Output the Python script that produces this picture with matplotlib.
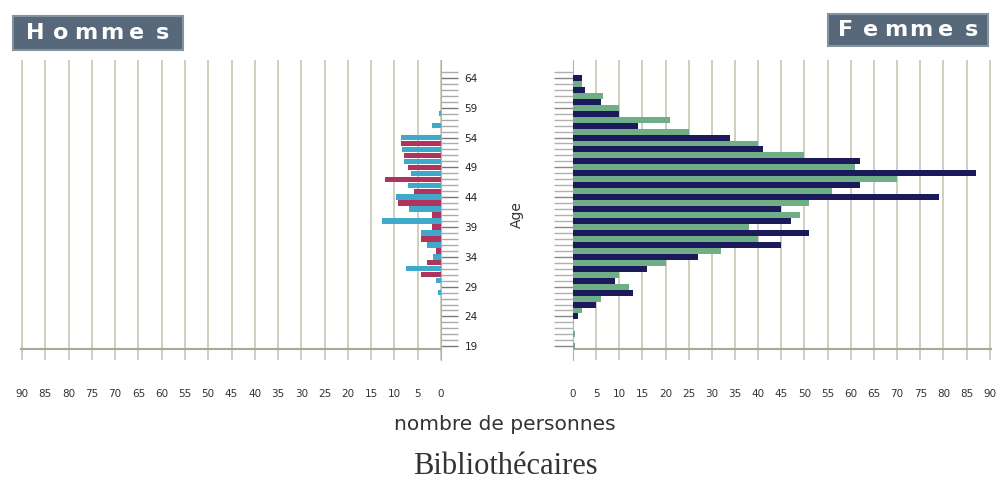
import matplotlib.pyplot as plt
from matplotlib.patches import Rectangle
import numpy as np

# Tranches d'age (2 ans) : serie "a" sur l'age pair, serie "b" sur l'age impair juste dessous
tranches = list(range(64, 18, -2))

femmes_a = [2, 2.5, 6, 10, 14, 34, 41, 62, 87, 62, 79, 45, 47, 51, 45, 27, 16, 9, 13, 5, 1, 0, 0]
femmes_b = [2, 6.5, 10, 21, 25, 40, 50, 61, 70, 56, 51, 49, 38, 40, 32, 20, 10, 12, 6, 2, 0, 0.5, 0.5]

hommes_a = [0, 0, 0, 0.5, 2, 8.6, 8.3, 8, 6.5, 7, 9.7, 6.8, 12.6, 4.3, 3, 1.8, 7.5, 1, 0.7, 0, 0, 0, 0]
hommes_b = [0, 0, 0, 0, 0, 8.6, 8, 7, 12, 5.8, 9.3, 2, 2, 4.3, 1, 3, 4.3, 0, 0, 0, 0, 0, 0]

x_ticks = list(range(0, 95, 5))
age_labels = list(range(19, 65, 5))

W, H = 1001, 482


def px_box(x0, y0, x1, y1):
    # pixel box -> figure fraction [left, bottom, width, height]
    return [x0 / W, 1 - y1 / H, (x1 - x0) / W, (y1 - y0) / H]


fig = plt.figure(figsize=(W / 100, H / 100), dpi=100)
fig.patch.set_facecolor('white')

ax_h = fig.add_axes(px_box(19.7, 60, 441, 360))
ax_f = fig.add_axes(px_box(573, 60, 992, 360))

y_a = np.array(tranches, dtype=float)
y_b = y_a - 1

ax_h.barh(y_a, hommes_a, height=0.9, color='#3fa9cb', zorder=3)
ax_h.barh(y_b, hommes_b, height=0.9, color='#b0335e', zorder=3)
ax_f.barh(y_a, femmes_a, height=1.0, color='#1b1b5c', zorder=3)
ax_f.barh(y_b, femmes_b, height=1.0, color='#6fae86', zorder=3)

ax_h.set_xlim(90.5, 0)
ax_f.set_xlim(0, 90.5)

for ax in (ax_h, ax_f):
    ax.set_ylim(16.7, 67)
    ax.set_xticks(x_ticks)
    ax.set_xticklabels([str(v) for v in x_ticks])
    ax.grid(axis='x', color='#d0cebf', linewidth=1.4)
    ax.set_axisbelow(True)
    ax.axhline(18.5, color='#a9a799', linewidth=1.5, zorder=2)
    for s in ax.spines.values():
        s.set_visible(False)
    ax.tick_params(axis='x', length=0, pad=21, labelsize=7.5, labelcolor='#333333')
    ax.set_yticks(age_labels)
    ax.set_yticks(range(19, 66), minor=True)

# axe des ages (partie hommes)
ax_h.yaxis.tick_right()
ax_h.spines['right'].set_visible(True)
ax_h.spines['right'].set_color('#b5b3a8')
ax_h.set_yticklabels([str(a) for a in age_labels])
ax_h.tick_params(axis='y', which='both', direction='out', length=12, width=1,
                 color='#777777', labelsize=7.5, labelcolor='#222222', pad=5)
ax_h.tick_params(axis='y', which='minor', color='#aaaaaa')

ax_f.spines['left'].set_visible(True)
ax_f.spines['left'].set_color('#b5b3a8')
ax_f.set_yticklabels([])
ax_f.tick_params(axis='y', which='both', direction='out', length=14, width=1,
                 color='#888888')
ax_f.tick_params(axis='y', which='minor', color='#b0b0b0')

fig.text(517 / W, 1 - 215 / H, 'Age', rotation=90, ha='center', va='center',
         fontsize=10, color='#333333')

# encadres des titres
fig.add_artist(Rectangle((13 / W, 1 - 50 / H), 170 / W, 34 / H, transform=fig.transFigure,
                         facecolor='#56687a', edgecolor='#8593a1', linewidth=1.5))
fig.add_artist(Rectangle((828 / W, 1 - 46 / H), 160 / W, 32 / H, transform=fig.transFigure,
                         facecolor='#56687a', edgecolor='#8593a1', linewidth=1.5))
for i, ch in enumerate('Hommes'):
    fig.text((35 + 25.5 * i) / W, 1 - 33 / H, ch, color='white', fontsize=16,
             fontweight='bold', ha='center', va='center')
for i, ch in enumerate('Femmes'):
    fig.text((846 + 25 * i) / W, 1 - 30 / H, ch, color='white', fontsize=16,
             fontweight='bold', ha='center', va='center')

fig.text(505 / W, 1 - 424 / H, 'nombre de personnes', ha='center', va='center',
         fontsize=14.5, color='#333333')
fig.text(505 / W, 1 - 466 / H, 'Bibliothécaires', ha='center', va='center',
         fontsize=22, color='#333333', family='Liberation Serif')

fig.savefig('out.png', dpi=100)
